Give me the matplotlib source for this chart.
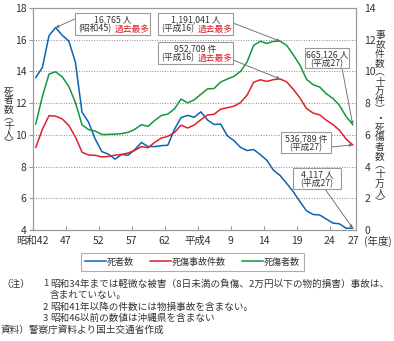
import numpy as np
import matplotlib
matplotlib.use('Agg')
import matplotlib.pyplot as plt
from matplotlib.patches import Rectangle
from matplotlib.lines import Line2D

plt.rcParams['font.family'] = ['Noto Sans CJK JP', 'DejaVu Sans']

# 昭和42(1967) ～ 平成27(2015)
years = list(range(1967, 2016))
# 死者数（千人）
deaths = [13.618, 14.256, 16.257, 16.765, 16.278, 15.918, 14.574, 11.432, 10.792, 9.734,
          8.945, 8.783, 8.466, 8.760, 8.719, 9.073, 9.520, 9.262, 9.261, 9.317,
          9.347, 10.344, 11.086, 11.227, 11.109, 11.452, 10.945, 10.653, 10.684, 9.943,
          9.642, 9.214, 9.012, 9.073, 8.757, 8.396, 7.768, 7.436, 6.937, 6.415,
          5.796, 5.209, 4.979, 4.948, 4.691, 4.438, 4.388, 4.113, 4.117]
# 死傷事故件数（十万件）
accidents = [5.215, 6.351, 7.209, 7.181, 7.003, 6.593, 5.867, 4.905, 4.729, 4.710,
             4.606, 4.640, 4.716, 4.767, 4.856, 5.023, 5.264, 5.186, 5.528, 5.792,
             5.907, 6.145, 6.614, 6.431, 6.624, 6.953, 7.247, 7.295, 7.618, 7.711,
             7.804, 8.039, 8.504, 9.320, 9.473, 9.370, 9.483, 9.527, 9.343, 8.873,
             8.327, 7.664, 7.376, 7.259, 6.921, 6.652, 6.290, 5.738, 5.368]
# 死傷者数（十万人）
casualties = [6.690, 8.423, 9.833, 9.979, 9.660, 9.051, 8.045, 6.629, 6.333, 6.237,
              6.022, 6.029, 6.047, 6.075, 6.161, 6.353, 6.643, 6.536, 6.906, 7.216,
              7.315, 7.632, 8.259, 8.015, 8.214, 8.555, 8.896, 8.924, 9.334, 9.521,
              9.686, 9.999, 10.594, 11.648, 11.898, 11.764, 11.894, 11.910, 11.641, 11.050,
              10.404, 9.509, 9.162, 9.012, 8.593, 8.298, 7.859, 7.155, 6.651]

tick_pos = [0, 5, 10, 15, 20, 25, 30, 35, 40, 45, 48.6]
tick_labels = ['昭和42', '47', '52', '57', '62', '平成4', '9', '14', '19', '24', '27']

W, H = 394, 341
BLUE, RED, GREEN = '#0a64b4', '#e0202a', '#12983c'
GRAY = '#9a9a9a'
TXT = '#333333'

def fx(x):
    return x / W

def fy(y):
    return 1 - y / H

fig = plt.figure(figsize=(W / 100, H / 100), dpi=100)
ax = fig.add_axes([fx(32.5), fy(230), (356 - 32.5) / W, (230 - 8) / H])
ax2 = ax.twinx()

x = np.arange(len(years)) + 0.5
ax.plot(x, deaths, color=BLUE, lw=1.1, zorder=3)
ax2.plot(x, accidents, color=RED, lw=1.1)
ax2.plot(x, casualties, color=GREEN, lw=1.1)

ax.set_xlim(0, len(years))
ax.set_ylim(4, 18)
ax2.set_ylim(0, 14)
ax.set_yticks(range(4, 19, 2))
ax2.set_yticks(range(0, 15, 2))
ax.set_xticks(tick_pos)
ax.set_xticklabels(tick_labels)
ax.xaxis.get_major_ticks()[-1].tick1line.set_visible(False)

ax.yaxis.grid(True, linestyle=(0, (1, 1.6)), color='#8a8a8a', lw=0.7)
for a in (ax, ax2):
    for s in a.spines.values():
        s.set_color(GRAY)
        s.set_linewidth(0.8)
ax.tick_params(axis='y', direction='out', length=3, width=0.8, color=GRAY,
               labelsize=7.5, labelcolor=TXT, pad=1.5)
ax.tick_params(axis='x', direction='in', length=3, width=0.8, color=GRAY,
               labelsize=7.5, labelcolor=TXT, pad=4)
ax2.tick_params(axis='y', length=0, labelsize=7.5, labelcolor=TXT, pad=6)

fig.text(fx(364), fy(241.5), '(年度)', fontsize=7.5, color=TXT, ha='left', va='center')

# 縦書きラベル
def vlabel(xc, y0, step, chars, fs):
    for k, ch in enumerate(chars):
        fig.text(fx(xc), fy(y0 + k * step), ch, ha='center', va='center',
                 fontsize=fs, color=TXT)

vlabel(9, 92, 8.5, '死者数︵千人︶', 7)
vlabel(380, 35, 9.3, '事故件数︵十万件︶・死傷者数︵十万人︶', 7)

# 注記ボックス
def box(x0, y0, x1, y1, line1, line2, red=None):
    fig.add_artist(Rectangle((fx(x0), fy(y1)), (x1 - x0) / W, (y1 - y0) / H,
                             transform=fig.transFigure, fc='white', ec=GRAY, lw=0.8))
    cx = (x0 + x1) / 2
    fig.text(fx(cx), fy(y0 + 6.5), line1, ha='center', va='center', fontsize=6.3, color=TXT)
    if red:
        fig.text(fx(cx - 1), fy(y0 + 16), line2, ha='right', va='center', fontsize=6.3, color=TXT)
        fig.text(fx(cx + 2), fy(y0 + 16), red, ha='left', va='center', fontsize=6.3, color=RED)
    else:
        fig.text(fx(cx), fy(y0 + 16), line2, ha='center', va='center', fontsize=6.3, color=TXT)

def pointer(axis, xi, val, sx, sy):
    axis.annotate('', xy=(x[xi], val), xycoords='data',
                  xytext=(fx(sx), fy(sy)), textcoords='figure fraction',
                  annotation_clip=False,
                  arrowprops=dict(arrowstyle='-|>', ec='#777777', fc='black', lw=0.7,
                                  mutation_scale=4, shrinkA=0, shrinkB=0))

box(75, 13, 150, 35, '16,765 人', '(昭和45)', '過去最多')
box(158, 13, 233, 35, '1,191,041 人', '(平成16)', '過去最多')
box(158, 42, 233, 64, '952,709 件', '(平成16)', '過去最多')
box(305, 48, 349, 68, '665,126 人', '(平成27)')
box(281, 132, 331, 153, '536,789 件', '(平成27)')
box(293, 168, 341, 189, '4,117 人', '(平成27)')

pointer(ax, 3, deaths[3], 75, 19)
pointer(ax2, 37, casualties[37], 233, 23)
pointer(ax2, 37, accidents[37], 233, 60)
pointer(ax2, 48, casualties[48], 342, 68)
pointer(ax2, 48, accidents[48], 331, 147)
pointer(ax, 48, deaths[48], 325, 189)

handles = [Line2D([], [], color=c, lw=1.1) for c in (BLUE, RED, GREEN)]
leg = fig.legend(handles, ['死者数', '死傷事故件数', '死傷者数'], loc='center',
                 bbox_to_anchor=(fx(192.5), fy(262)), ncol=3, fontsize=6.5,
                 frameon=True, fancybox=False, edgecolor=GRAY, handlelength=2.3,
                 handletextpad=0.1, columnspacing=1.8, borderpad=0.45)
leg.get_frame().set_linewidth(0.8)
for t in leg.get_texts():
    t.set_color(TXT)

notes = [
    (1, 284, '（注）'),
    (43, 284, '1'),
    (50, 284, '昭和34年までは軽微な被害（8日未満の負傷、2万円以下の物的損害）事故は、'),
    (50, 295.5, '含まれていない。'),
    (43, 307, '2'),
    (50, 307, '昭和41年以降の件数には物損事故を含まない。'),
    (43, 318.5, '3'),
    (50, 318.5, '昭和46以前の数値は沖縄県を含まない'),
    (1, 330, '資料）警察庁資料より国土交通省作成'),
]
for nx, ny, s in notes:
    fig.text(fx(nx), fy(ny), s, ha='left', va='center', fontsize=6.9, color=TXT)

fig.savefig('out.png', dpi=100)
